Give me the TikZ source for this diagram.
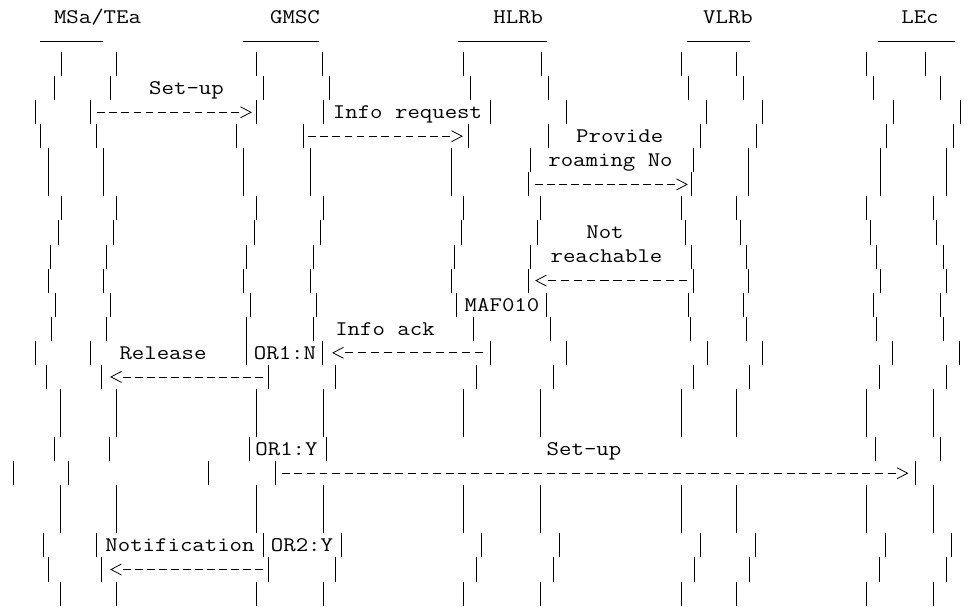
\documentclass[tikz,border=0pt]{standalone}
\usepackage{fontspec}
\usepackage{graphicx}
\usetikzlibrary{calc}
\newcommand{\sx}[1]{\scalebox{1.16}[1]{#1}}
\begin{document}
\begin{tikzpicture}[x=1pt,y=-1pt,
  lbl/.style={anchor=base,inner sep=0pt,font=\ttfamily\fontsize{20.8}{24}\selectfont},
  bar/.style={line width=0.9pt},
  uline/.style={line width=1pt},
  msg/.style={line width=0.8pt},
  tipline/.style={line width=0.8pt,solid,line join=miter}]
\useasboundingbox (0,0) rectangle (974,606);
% entity titles
\node[lbl] (tMS)   at (97.5,23.5)  {\sx{MSa/TEa}};
\node[lbl] (tGMSC) at (295,23.5)   {\sx{GMSC}};
\node[lbl] (tHLR)  at (518.3,23.5) {\sx{HLRb}};
\node[lbl] (tVLR)  at (728,23.5)   {\sx{VLRb}};
\node[lbl] (tLE)   at (920,23.5)   {\sx{LEc}};
% underscores
\draw[uline] (40,41.5) -- (103.3,41.5);
\draw[uline] (242.7,41.5) -- (319.3,41.5);
\draw[uline] (458.3,41.5) -- (546.7,41.5);
\draw[uline] (686.7,41.5) -- (750,41.5);
\draw[uline] (878.3,41.5) -- (955,41.5);
% life-line bars, row by row
\foreach \r/\xs in {
  2/{61.7,116.7,256.7,322.7,463.3,541.7,681.7,736.7,866.7,925},
  3/{54,110,263.3,329.3,470,548.3,688.3,743.3,873.3,940},
  4/{35,90,256.7,323.3,490,566.7,706.7,762.7,893.3,960},
  5/{40,96,236.7,303.3,468.3,548.3,700,756.7,886.7,953.3},
  6/{48.3,103.3,243.3,310,451.7,530,693.3,748.3,880,946.7},
  7/{48.3,103.3,243.3,310,451.7,528.3,691.7,748.3,880,946.7},
  8/{61.7,116.7,256.7,323.3,463.3,540,681.7,736.7,866.7,933.3},
  9/{58.3,113.3,254,320.7,461.7,537.3,685,740,870,936.7},
  10/{50,106,246.7,313.3,454,530,691.7,746.7,876.7,943.3},
  11/{48.3,103.3,243.3,310,451.7,528.3,693.3,748.3,880,946.7},
  12/{55,110,250,316,456.7,546.7,688.3,743.3,873.3,940},
  13/{51.7,106.7,246.7,313.3,473.3,550,690.7,746.7,876.7,943.3},
  14/{35,90,246.7,322.7,490,566.7,707.3,762.7,892.7,959.3},
  15/{46.7,101.7,268.3,335,476.7,553.3,693.3,749.3,879.3,946},
  16/{60,116.7,256.7,323.3,463.3,540,681.7,736.7,866.7,933.3},
  17/{60,116.7,256.7,323.3,463.3,540,681.7,736.7,866.7,933.3},
  18/{54,109.3,249.3,326.7,875,940},
  19/{13.3,68.3,208.3,275,915},
  20/{60.7,116.7,256.7,323.3,463.3,540,681.7,736.7,866.7,933.3},
  21/{60.7,116.7,256.7,323.3,463.3,540,681.7,736.7,866.7,933.3},
  22/{43.3,96.7,263.3,341.7,481.7,559,700,755,885,951.7},
  23/{48.3,101.7,268.3,335,476.7,553.3,694,749.3,879.3,946},
  24/{60,116.7,256.7,323.3,463.3,540,681.7,736.7,866.7,933.3}} {
  \pgfmathsetmacro\t{52+(\r-2)*24.07}
  \foreach \x in \xs { \draw[bar] (\x,\t) -- (\x,\t+24.07); }
}
% message labels
\node[lbl] (lSetup1) at (186.5,94.4)  {\sx{Set-up}};
\node[lbl] (lInfoRq) at (407.5,118.4) {\sx{Info request}};
\node[lbl] (lProv)   at (619.7,142.5) {\sx{Provide}};
\node[lbl] (lRoam)   at (610.5,166.6) {\sx{roaming No}};
\node[lbl] (lNot)    at (605,238.8)   {\sx{Not}};
\node[lbl] (lReach)  at (606.5,262.9) {\sx{reachable}};
\node[lbl] (lMAF)    at (502,311.0)   {\sx{MAF010}};
\node[lbl] (lInfoAk) at (385,335.1)   {\sx{Info ack}};
\node[lbl] (lRel)    at (163,359.1)   {\sx{Release}};
\node[lbl] (lOR1N)   at (285,359.1)   {\sx{OR1:N}};
\node[lbl] (lOR1Y)   at (286.5,455.4) {\sx{OR1:Y}};
\node[lbl] (lSetup2) at (584,455.4)   {\sx{Set-up}};
\node[lbl] (lNotif)  at (180,551.7)   {\sx{Notification}};
\node[lbl] (lOR2Y)   at (302,551.7)   {\sx{OR2:Y}};
% message arrows
\coordinate (a1s) at (97,112.3);    \coordinate (a1e) at (251,112.3);
\coordinate (a2s) at (308,136.2);   \coordinate (a2e) at (462,136.2);
\coordinate (a3s) at (535,184.4);   \coordinate (a3e) at (687,184.4);
\coordinate (a4s) at (687,280.6);   \coordinate (a4e) at (536,280.6);
\coordinate (a5s) at (483,352.8);   \coordinate (a5e) at (333,352.8);
\coordinate (a6s) at (263,376.9);   \coordinate (a6e) at (111,376.9);
\coordinate (a7s) at (281.7,473.2); \coordinate (a7e) at (907.5,473.2);
\coordinate (a8s) at (263,569.5);   \coordinate (a8e) at (111,569.5);
\foreach \i/\d/\L in {1/1/142,2/1/142,3/1/140,4/-1/139,5/-1/138,6/-1/140,7/1/613.8,8/-1/140} {
  \pgfmathsetmacro\nd{round((\L+4.7)/12.5)}
  \pgfmathsetmacro\per{\L/(\nd-0.376)}
  \pgfmathsetmacro\don{0.624*\per}
  \pgfmathsetmacro\doff{0.376*\per}
  \draw[msg,dash pattern=on \don pt off \doff pt] (a\i s) -- ($(a\i e)+(-12*\d,0)$);
  \draw[tipline] ($(a\i e)+(-10.5*\d,-5.5)$) -- (a\i e) -- ($(a\i e)+(-10.5*\d,5.5)$);
}
\end{tikzpicture}
\end{document}
